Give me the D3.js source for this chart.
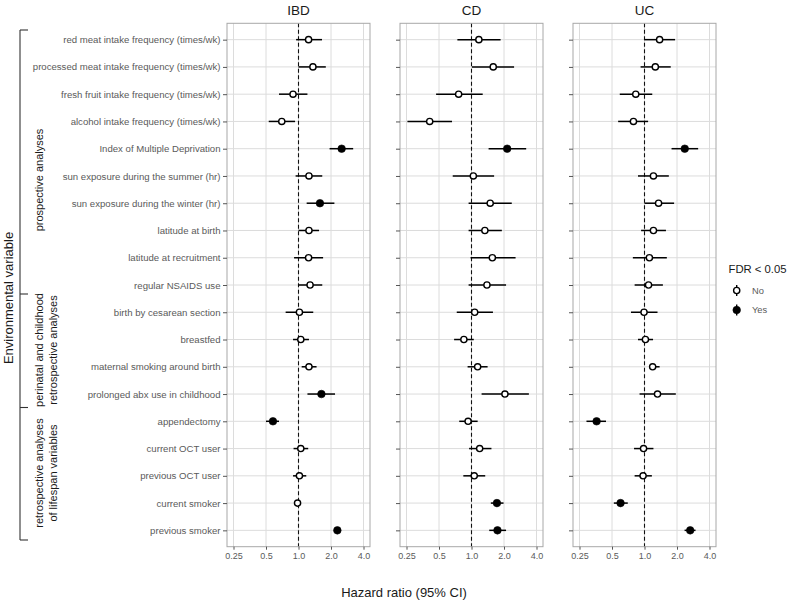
<!DOCTYPE html>
<html>
<head>
<meta charset="utf-8">
<script src="https://cdn.jsdelivr.net/npm/d3@7"></script>
<style>
  html, body { margin: 0; padding: 0; background: #fff; }
  svg { display: block; font-family: "Liberation Sans", Arial, Helvetica, sans-serif; }
</style>
</head>
<body>
<svg id="chart" width="793" height="602"></svg>
<script>
// ---------------- data ----------------
const variables = [
  "red meat intake frequency (times/wk)",
  "processed meat intake frequency (times/wk)",
  "fresh fruit intake frequency (times/wk)",
  "alcohol intake frequency (times/wk)",
  "Index of Multiple Deprivation",
  "sun exposure during the summer (hr)",
  "sun exposure during the winter (hr)",
  "latitude at birth",
  "latitude at recruitment",
  "regular NSAIDS use",
  "birth by cesarean section",
  "breastfed",
  "maternal smoking around birth",
  "prolonged abx use in childhood",
  "appendectomy",
  "current OCT user",
  "previous OCT user",
  "current smoker",
  "previous smoker"
];
const panels = ["IBD", "CD", "UC"];

const ibdHR  = [1.24, 1.36, 0.89, 0.70, 2.51, 1.25, 1.58, 1.25, 1.24, 1.28, 1.02, 1.05, 1.25, 1.63, 0.58, 1.05, 1.02, 0.98, 2.29];
const ibdLo  = [0.95, 1.00, 0.66, 0.53, 1.94, 0.94, 1.19, 1.00, 0.91, 1.00, 0.76, 0.89, 1.07, 1.21, 0.50, 0.90, 0.89, 0.93, 2.15];
const ibdHi  = [1.65, 1.79, 1.21, 0.93, 3.21, 1.66, 2.15, 1.55, 1.69, 1.66, 1.37, 1.25, 1.47, 2.18, 0.66, 1.23, 1.18, 1.04, 2.45];
const ibdSig = [0, 0, 0, 0, 1, 0, 1, 0, 0, 0, 0, 0, 0, 1, 1, 0, 0, 0, 1];

const cdHR   = [1.17, 1.59, 0.76, 0.41, 2.14, 1.04, 1.49, 1.33, 1.56, 1.39, 1.07, 0.85, 1.14, 2.04, 0.93, 1.19, 1.06, 1.72, 1.74];
const cdLo   = [0.74, 1.01, 0.47, 0.255, 1.44, 0.67, 0.94, 0.94, 0.98, 0.94, 0.73, 0.69, 0.92, 1.24, 0.77, 0.95, 0.84, 1.51, 1.46];
const cdHi   = [1.86, 2.48, 1.27, 0.66, 3.21, 1.62, 2.36, 1.91, 2.56, 2.09, 1.58, 1.05, 1.41, 3.40, 1.14, 1.53, 1.34, 1.98, 2.09];
const cdSig  = [0, 0, 0, 0, 1, 0, 0, 0, 0, 0, 0, 0, 0, 0, 0, 0, 0, 1, 1];

const ucHR   = [1.38, 1.26, 0.83, 0.79, 2.36, 1.21, 1.35, 1.21, 1.11, 1.09, 0.99, 1.02, 1.19, 1.32, 0.36, 0.98, 0.97, 0.60, 2.65];
const ucLo   = [1.00, 0.92, 0.59, 0.57, 1.78, 0.87, 1.00, 0.93, 0.78, 0.81, 0.75, 0.87, 1.10, 0.90, 0.29, 0.80, 0.81, 0.52, 2.35];
const ucHi   = [1.92, 1.75, 1.18, 1.08, 3.14, 1.68, 1.88, 1.58, 1.61, 1.48, 1.32, 1.20, 1.38, 1.95, 0.44, 1.21, 1.17, 0.70, 2.97];
const ucSig  = [0, 0, 0, 0, 1, 0, 0, 0, 0, 0, 0, 0, 0, 0, 1, 0, 0, 1, 1];

const xTicks = [0.25, 0.5, 1.0, 2.0, 4.0];
const xTickLabels = ["0.25", "0.5", "1.0", "2.0", "4.0"];

const groups = [
  { lines: ["prospective analyses"], from: 0, to: 9 },
  { lines: ["perinatal and childhood", "retrospective analyses"], from: 10, to: 13 },
  { lines: ["retrospective analyses", "of lifespan variables"], from: 14, to: 18 }
];
const legendTitle = "FDR < 0.05";
const legendLabels = ["No", "Yes"];
const yTitle = "Environmental variable";
const xTitle = "Hazard ratio (95% CI)";

const panelData = [
  { name: "IBD", hr: ibdHR, lo: ibdLo, hi: ibdHi, sig: ibdSig },
  { name: "CD",  hr: cdHR,  lo: cdLo,  hi: cdHi,  sig: cdSig },
  { name: "UC",  hr: ucHR,  lo: ucLo,  hi: ucHi,  sig: ucSig }
];

// ---------------- layout ----------------
const svg = d3.select("#chart");
const panelLefts = [227, 400, 573];
const panelW = 143;
const panelTop = 23.3, panelBottom = 546.7;

const x = d3.scaleLog().base(2)
  .domain([Math.pow(2, -2.2), Math.pow(2, 2.2)])
  .range([0, panelW]);
const y = d3.scalePoint().domain(variables)
  .range([panelTop, panelBottom]).padding(0.6);

const gridCol = "#dcdcdc", borderCol = "#a8a8a8", textCol = "#5a5a5a";

panelData.forEach((p, pi) => {
  const g = svg.append("g").attr("transform", `translate(${panelLefts[pi]},0)`);

  // grid
  g.selectAll("line.vg").data(xTicks).join("line")
    .attr("x1", d => x(d)).attr("x2", d => x(d))
    .attr("y1", panelTop).attr("y2", panelBottom)
    .attr("stroke", gridCol).attr("stroke-width", 1);
  g.selectAll("line.hg").data(variables).join("line")
    .attr("x1", 0).attr("x2", panelW)
    .attr("y1", d => y(d)).attr("y2", d => y(d))
    .attr("stroke", gridCol).attr("stroke-width", 1);

  // reference line
  g.append("line")
    .attr("x1", x(1)).attr("x2", x(1))
    .attr("y1", panelTop).attr("y2", panelBottom)
    .attr("stroke", "#111").attr("stroke-width", 1.1)
    .attr("stroke-dasharray", "4,2.5");

  // border
  g.append("rect").attr("x", 0).attr("y", panelTop)
    .attr("width", panelW).attr("height", panelBottom - panelTop)
    .attr("fill", "none").attr("stroke", borderCol).attr("stroke-width", 1);

  // y axis
  const yAxis = d3.axisLeft(y).tickSize(4).tickPadding(2.5);
  if (pi > 0) yAxis.tickFormat("");
  const ya = g.append("g").call(yAxis);
  ya.select(".domain").remove();
  ya.selectAll(".tick line").attr("stroke", "#555");
  ya.selectAll(".tick text").attr("fill", textCol).style("font-size", "9.6px")
    .style("font-family", "'Liberation Sans', Arial, sans-serif");

  // x axis
  const xAxis = d3.axisBottom(x).tickValues(xTicks)
    .tickFormat((d, i) => xTickLabels[i]).tickSize(3).tickPadding(3);
  const xa = g.append("g").attr("transform", `translate(0,${panelBottom})`).call(xAxis);
  xa.select(".domain").remove();
  xa.selectAll(".tick line").attr("stroke", "#555");
  xa.selectAll(".tick text").attr("fill", textCol).style("font-size", "9px")
    .style("font-family", "'Liberation Sans', Arial, sans-serif");

  // strip title
  g.append("text").attr("x", panelW / 2).attr("y", 14.5)
    .attr("text-anchor", "middle").attr("fill", "#1a1a1a")
    .style("font-size", "13.5px").text(p.name);

  // error bars + points
  const rows = variables.map((v, i) => ({ v, hr: p.hr[i], lo: p.lo[i], hi: p.hi[i], sig: p.sig[i] }));
  g.selectAll("line.ci").data(rows).join("line")
    .attr("x1", d => x(d.lo)).attr("x2", d => x(d.hi))
    .attr("y1", d => y(d.v)).attr("y2", d => y(d.v))
    .attr("stroke", "#000").attr("stroke-width", 1.5);
  g.selectAll("circle.pt").data(rows).join("circle")
    .attr("cx", d => x(d.hr)).attr("cy", d => y(d.v))
    .attr("r", d => d.sig ? 3.8 : 3.1)
    .attr("fill", d => d.sig ? "#000" : "#fff")
    .attr("stroke", "#000").attr("stroke-width", d => d.sig ? 0.6 : 1.4);
});

// brackets
const bx = 20, btick = 8;
const bTops = [30, 294, 407.5];
const bBottoms = [294, 407.5, 540];
svg.append("line").attr("x1", bx).attr("x2", bx).attr("y1", bTops[0]).attr("y2", bBottoms[2])
  .attr("stroke", "#333").attr("stroke-width", 1.1);
[30, 294, 407.5, 540].forEach(yy => {
  svg.append("line").attr("x1", bx).attr("x2", bx + btick).attr("y1", yy).attr("y2", yy)
    .attr("stroke", "#333").attr("stroke-width", 1.1);
});

// group labels
const groupCenters = [180, 350, 473];
groups.forEach((gr, gi) => {
  const n = gr.lines.length;
  const t = svg.append("text")
    .attr("transform", `translate(${n === 1 ? 42.5 : 46},${groupCenters[gi]}) rotate(-90)`)
    .attr("text-anchor", "middle").attr("fill", "#1a1a1a")
    .style("font-size", "11px");
  gr.lines.forEach((ln, li) => {
    t.append("tspan").attr("x", 0)
      .attr("dy", li === 0 ? (n === 1 ? 0 : -6.8 + 4) : 13.6)
      .text(ln);
  });
});

// y title
svg.append("text").attr("transform", "translate(12.5,298) rotate(-90)")
  .attr("text-anchor", "middle").attr("fill", "#1a1a1a")
  .style("font-size", "13px").text(yTitle);

// x title
svg.append("text").attr("x", 404).attr("y", 597)
  .attr("text-anchor", "middle").attr("fill", "#1a1a1a")
  .style("font-size", "13px").text(xTitle);

// legend
const lg = svg.append("g");
lg.append("text").attr("x", 728.5).attr("y", 272.5).attr("fill", "#1a1a1a")
  .style("font-size", "11.3px").text(legendTitle);
legendLabels.forEach((lab, i) => {
  const cy = 290.5 + i * 19.5;
  lg.append("line").attr("x1", 736.7).attr("x2", 736.7).attr("y1", cy - 5.5).attr("y2", cy + 5.5)
    .attr("stroke", "#000").attr("stroke-width", 1.4);
  lg.append("circle").attr("cx", 736.7).attr("cy", cy)
    .attr("r", i ? 3.8 : 3.1).attr("fill", i ? "#000" : "#fff")
    .attr("stroke", "#000").attr("stroke-width", i ? 0.6 : 1.4);
  lg.append("text").attr("x", 752).attr("y", cy + 3.3).attr("fill", textCol)
    .style("font-size", "9.3px").text(lab);
});
</script>
</body>
</html>
